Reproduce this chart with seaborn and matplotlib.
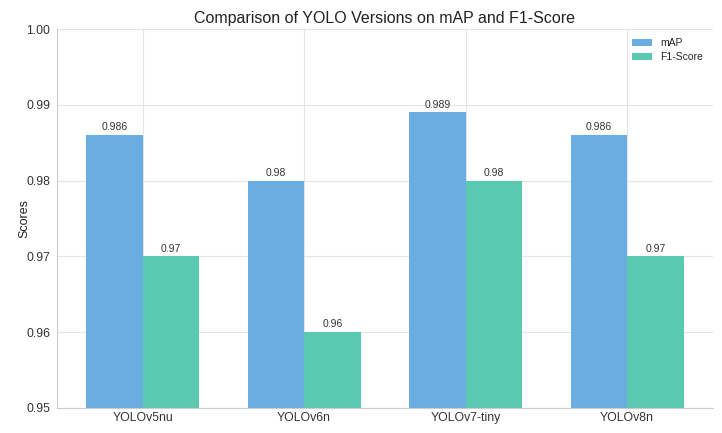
import matplotlib
matplotlib.use("Agg")
import matplotlib.pyplot as plt
import seaborn as sns
import pandas as pd

models = ["YOLOv5nu", "YOLOv6n", "YOLOv7-tiny", "YOLOv8n"]
map_scores = [0.986, 0.98, 0.989, 0.986]
f1_scores = [0.97, 0.96, 0.98, 0.97]

df = pd.DataFrame({
    "Model": models * 2,
    "Metric": ["mAP"] * len(models) + ["F1-Score"] * len(models),
    "Score": map_scores + f1_scores,
})

sns.set_theme(style="whitegrid")
plt.rcParams["font.family"] = ["Liberation Sans", "DejaVu Sans"]

fig = plt.figure(figsize=(7.22, 4.33), dpi=100)
ax = fig.add_axes([0.079, 0.058, 0.908, 0.875])
sns.barplot(data=df, x="Model", y="Score", hue="Metric",
            palette=["#6aade0", "#5ac9b0"], width=0.7, ax=ax,
            saturation=1, errorbar=None, linewidth=0, edgecolor="none")

for c in ax.containers:
    ax.bar_label(c, labels=[f"{v:g}" for v in c.datavalues], fontsize=7.5,
                 padding=2, color="#333333")

ax.set_ylim(0.95, 1.0)
ax.set_xlim(-0.53, 3.53)
ax.set_yticks([0.95, 0.96, 0.97, 0.98, 0.99, 1.0])
ax.set_yticklabels([f"{t:.2f}" for t in [0.95, 0.96, 0.97, 0.98, 0.99, 1.0]])
ax.tick_params(axis="both", labelsize=8.8, colors="#333333", length=0)
ax.tick_params(axis="y", pad=5)
ax.tick_params(axis="x", pad=3)
ax.set_xlabel("")
ax.set_ylabel("Scores", fontsize=9, color="#222222", labelpad=-3)
ax.set_title("Comparison of YOLO Versions on mAP and F1-Score", fontsize=11.5,
             color="#222222", pad=4)
ax.grid(True, color="#e5e5e5", linewidth=0.8)
for s in ["top", "right"]:
    ax.spines[s].set_visible(False)
for s in ["left", "bottom"]:
    ax.spines[s].set_color("#cccccc")
    ax.spines[s].set_linewidth(0.8)

leg = ax.legend(title=None, fontsize=7.5, frameon=False, loc="upper right",
                handlelength=1.9, handleheight=0.6, borderaxespad=0.5,
                labelspacing=0.35, bbox_to_anchor=(1.0, 1.0))

fig.savefig("out.png", dpi=100)
